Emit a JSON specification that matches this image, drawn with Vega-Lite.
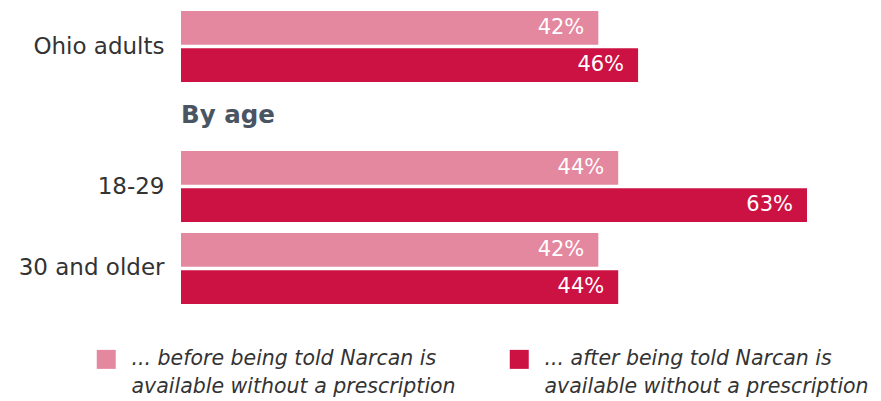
{
  "$schema": "https://vega.github.io/schema/vega-lite/v6.json",
  "background": "white",
  "padding": {"left": 18, "top": 11, "right": 5, "bottom": 5},
  "config": {
    "view": {"stroke": null},
    "font": "DejaVu Sans",
    "axisY": {"domain": false, "ticks": false, "labelFontSize": 23, "labelColor": "#333333", "labelPadding": 17, "labelFont": "DejaVu Sans", "labelFontWeight": "normal", "title": null}
  },
  "datasets": {
    "d": [
      {"section": "all", "group": "Ohio adults", "measure": "before", "value": 0.42},
      {"section": "all", "group": "Ohio adults", "measure": "after", "value": 0.46},
      {"section": "age", "group": "18-29", "measure": "before", "value": 0.44},
      {"section": "age", "group": "18-29", "measure": "after", "value": 0.63},
      {"section": "age", "group": "30 and older", "measure": "before", "value": 0.42},
      {"section": "age", "group": "30 and older", "measure": "after", "value": 0.44}
    ]
  },
  "bounds": "flush",
  "spacing": 69,
  "vconcat": [
    {
      "width": 626,
      "height": 71,
      "data": {"name": "d"},
      "transform": [{"filter": "datum.section == 'all'"}],
      "encoding": {
        "y": {"field": "group", "type": "nominal", "scale": {"paddingInner": 0, "paddingOuter": 0}, "title": null},
        "yOffset": {"field": "measure", "type": "nominal", "sort": ["before", "after"], "scale": {"paddingInner": 0.09, "paddingOuter": 0}},
        "x": {"field": "value", "type": "quantitative", "scale": {"domain": [0, 0.63], "nice": false}, "axis": null}
      },
      "layer": [
        {
          "mark": {"type": "bar"},
          "encoding": {
            "color": {
              "field": "measure", "type": "nominal",
              "scale": {"domain": ["before", "after"], "range": ["#E4889F", "#CC1243"]},
              "legend": {
                "orient": "none", "legendX": -85, "legendY": 338, "title": null, "direction": "horizontal", "columns": 2,
                "symbolType": "square", "symbolSize": 361, "symbolStrokeWidth": 0, "symbolOpacity": 1,
                "labelFontSize": 20.5, "labelFontStyle": "italic", "labelColor": "#333333", "labelFont": "DejaVu Sans",
                "labelOffset": 15, "columnPadding": 53, "labelLimit": 500,
                "encode": {"labels": {"update": {"lineHeight": {"value": 28}}}},
                "labelExpr": "datum.value == 'before' ? ['... before being told Narcan is', 'available without a prescription'] : ['... after being told Narcan is', 'available without a prescription']"
              }
            }
          }
        },
        {
          "mark": {"type": "text", "align": "right", "baseline": "middle", "dx": -14, "color": "white", "fontSize": 21, "font": "DejaVu Sans"},
          "encoding": {"text": {"field": "value", "type": "quantitative", "format": ".0%"}}
        }
      ]
    },
    {
      "width": 626,
      "height": 153,
      "title": {"text": "By age", "anchor": "start", "fontSize": 24.5, "fontWeight": "bold", "color": "#4A5563", "font": "DejaVu Sans", "offset": 23, "frame": "group"},
      "data": {"name": "d"},
      "transform": [{"filter": "datum.section == 'age'"}],
      "encoding": {
        "y": {"field": "group", "type": "nominal", "sort": ["18-29", "30 and older"], "scale": {"paddingInner": 0.134, "paddingOuter": 0}, "title": null},
        "yOffset": {"field": "measure", "type": "nominal", "sort": ["before", "after"], "scale": {"paddingInner": 0.09, "paddingOuter": 0}},
        "x": {"field": "value", "type": "quantitative", "scale": {"domain": [0, 0.63], "nice": false}, "axis": null}
      },
      "layer": [
        {
          "mark": {"type": "bar"},
          "encoding": {"color": {"field": "measure", "type": "nominal"}}
        },
        {
          "mark": {"type": "text", "align": "right", "baseline": "middle", "dx": -14, "color": "white", "fontSize": 21, "font": "DejaVu Sans"},
          "encoding": {"text": {"field": "value", "type": "quantitative", "format": ".0%"}}
        }
      ]
    }
  ]
}
